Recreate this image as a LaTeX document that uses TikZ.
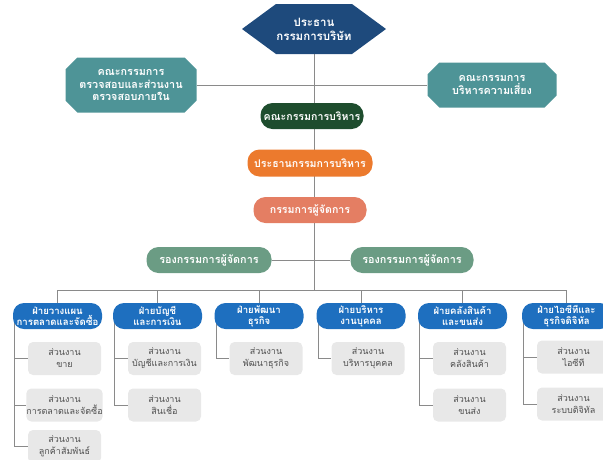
\documentclass[tikz,border=0pt]{standalone}
\usepackage{fontspec}
\newfontfamily\thaifont[Script=Thai]{Loma}
\usetikzlibrary{shapes.misc,backgrounds,calc}
\definecolor{navy}{HTML}{1E4A7C}
\definecolor{tealbox}{HTML}{4E9497}
\definecolor{dkgreen}{HTML}{1E4D2E}
\definecolor{orangebox}{HTML}{EC7A2D}
\definecolor{salmon}{HTML}{E47E63}
\definecolor{sage}{HTML}{6B9C84}
\definecolor{deptblue}{HTML}{1E6FBF}
\definecolor{subgray}{HTML}{E8E8E8}
\definecolor{subtext}{HTML}{505050}
\definecolor{linegray}{HTML}{8A8A8A}
\begin{document}
\begin{tikzpicture}[x=1pt,y=-1pt,
  conn/.style={draw=linegray,line width=0.9pt},
  octbox/.style={chamfered rectangle,chamfered rectangle xsep=9pt,fill=tealbox,text=white,inner sep=0pt,align=center,
    font=\thaifont\bfseries\fontsize{10.8}{12.5}\selectfont},
  pill/.style={rounded corners=12pt,minimum height=26pt,inner sep=0pt,text=white,
    font=\thaifont\bfseries\fontsize{10.6}{12}\selectfont},
  dept/.style={rounded corners=11pt,fill=deptblue,minimum width=89pt,minimum height=26pt,inner sep=0pt,text=white,align=center,
    font=\thaifont\bfseries\fontsize{9.6}{11}\selectfont},
  subbox/.style={rounded corners=5pt,fill=subgray,minimum width=73pt,minimum height=33pt,inner sep=0pt,text=subtext,align=center,
    font=\thaifont\fontsize{9}{12}\selectfont}]
\useasboundingbox (0,0) rectangle (603,459);
\clip (0,0) rectangle (603,459);
% top hexagon
\fill[navy] (242,29) -- (276,4) -- (352,4) -- (386,29) -- (352,54) -- (276,54) -- cycle;
\node[text=white,align=center,inner sep=0pt,minimum width=140pt,minimum height=48pt,
  font=\thaifont\bfseries\fontsize{11.5}{14}\selectfont] (top) at (314,29) {ประธาน\\กรรมการบริษัท};
% committees
\node[octbox,minimum width=131pt,minimum height=55pt] (aud) at (131,85) {คณะกรรมการ\\ตรวจสอบและส่วนงาน\\ตรวจสอบภายใน};
\node[octbox,minimum width=129pt,minimum height=45pt] (risk) at (492,85) {คณะกรรมการ\\บริหารความเสี่ยง};
% central chain
\node[pill,fill=dkgreen,minimum width=103pt] (board) at (312,116) {คณะกรรมการบริหาร};
\node[pill,fill=orangebox,minimum width=125pt,minimum height=27pt] (chair) at (310,163) {ประธานกรรมการบริหาร};
\node[pill,fill=salmon,minimum width=113pt] (md) at (310,210) {กรรมการผู้จัดการ};
\node[pill,fill=sage,minimum width=125pt,font=\thaifont\bfseries\fontsize{10.8}{12}\selectfont] (dep1) at (209,260) {รองกรรมการผู้จัดการ};
\node[pill,fill=sage,minimum width=123pt,font=\thaifont\bfseries\fontsize{10.8}{12}\selectfont] (dep2) at (412,260) {รองกรรมการผู้จัดการ};
% departments
\node[dept] (d1) at (57.5,316) {ฝ่ายวางแผน\\การตลาดและจัดซื้อ};
\node[dept] (d2) at (157.5,316) {ฝ่ายบัญชี\\และการเงิน};
\node[dept] (d3) at (259,316) {ฝ่ายพัฒนา\\ธุรกิจ};
\node[dept] (d4) at (361,316) {ฝ่ายบริหาร\\งานบุคคล};
\node[dept] (d5) at (462.5,316) {ฝ่ายคลังสินค้า\\และขนส่ง};
\node[dept] (d6) at (566.5,316) {ฝ่ายไอซีทีและ\\ธุรกิจดิจิทัล};
% sub units
\node[subbox] (s11) at (64.5,358.5) {ส่วนงาน\\ขาย};
\node[subbox] (s12) at (64.5,405) {ส่วนงาน\\การตลาดและจัดซื้อ};
\node[subbox] (s13) at (64.5,446.5) {ส่วนงาน\\ลูกค้าสัมพันธ์};
\node[subbox] (s21) at (164.5,358.5) {ส่วนงาน\\บัญชีและการเงิน};
\node[subbox] (s22) at (164.5,405) {ส่วนงาน\\สินเชื่อ};
\node[subbox] (s31) at (266,358.5) {ส่วนงาน\\พัฒนาธุรกิจ};
\node[subbox] (s41) at (368,358.5) {ส่วนงาน\\บริหารบุคคล};
\node[subbox] (s51) at (469.5,358.5) {ส่วนงาน\\คลังสินค้า};
\node[subbox] (s52) at (469.5,405) {ส่วนงาน\\ขนส่ง};
\node[subbox] (s61) at (573.5,357) {ส่วนงาน\\ไอซีที};
\node[subbox] (s62) at (573.5,404) {ส่วนงาน\\ระบบดิจิทัล};
% connectors
\begin{scope}[on background layer]
\coordinate (busL) at (57.5,290);
\coordinate (busR) at (566.5,290);
\draw[conn] (top.center) -- (top.center |- busL);
\draw[conn] (aud.east) -- (aud.east -| top.center);
\draw[conn] (risk.west) -- (risk.west -| top.center);
\draw[conn] (dep1.east) -- (dep2.west);
\draw[conn] (busL) -- (busR);
\foreach \d in {d1,d2,d3,d4,d5,d6} {
  \draw[conn] (\d.center |- busL) -- (\d.center);
}
\coordinate (v1) at (14,316);
\coordinate (v2) at (114,316);
\coordinate (v3) at (216,316);
\coordinate (v4) at (318,316);
\coordinate (v5) at (419,316);
\coordinate (v6) at (523,316);
\draw[conn] (v1) |- (s13.west);
\draw[conn] (s11.west) -- (s11.west -| v1);
\draw[conn] (s12.west) -- (s12.west -| v1);
\draw[conn] (v2) |- (s22.west);
\draw[conn] (s21.west) -- (s21.west -| v2);
\draw[conn] (v3) |- (s31.west);
\draw[conn] (v4) |- (s41.west);
\draw[conn] (v5) |- (s52.west);
\draw[conn] (s51.west) -- (s51.west -| v5);
\draw[conn] (v6) |- (s62.west);
\draw[conn] (s61.west) -- (s61.west -| v6);
\end{scope}
\end{tikzpicture}
\end{document}
